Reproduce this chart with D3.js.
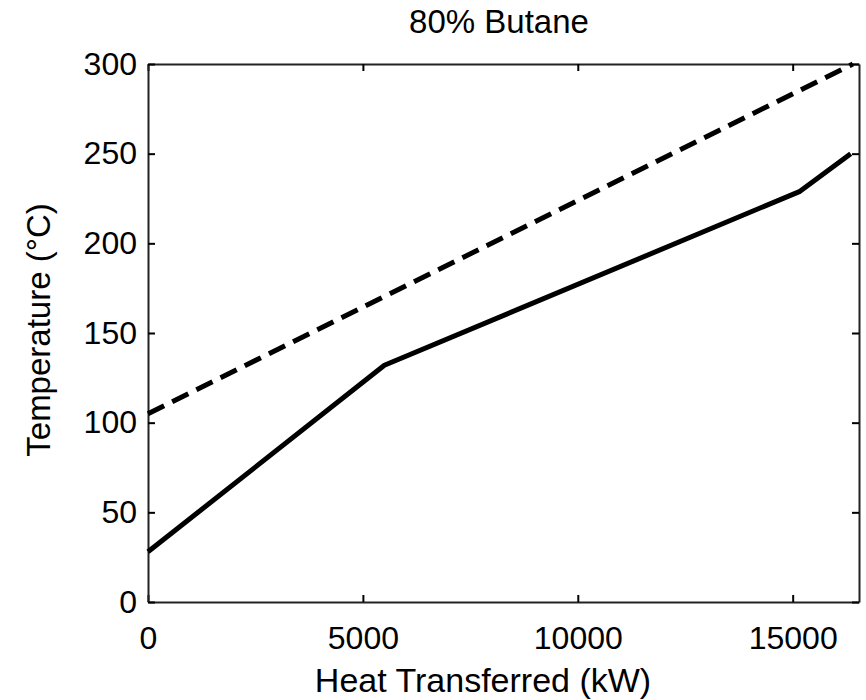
<!DOCTYPE html>
<html>
<head>
<meta charset="utf-8">
<script src="https://cdn.jsdelivr.net/npm/d3@7"></script>
<style>
  body { margin: 0; background: #fff; }
  svg text { font-family: "Liberation Sans", Arial, sans-serif; fill: #000; }
</style>
</head>
<body>
<svg id="chart" width="866" height="700"></svg>
<script>
// hot stream (dashed) and cold stream (solid), heat in kW, temperature in °C
const hotHeat = [0, 16400]
const hotTemp = [105, 300]
const coldHeat = [0, 5500, 15170, 16350]
const coldTemp = [28, 132, 229, 250]
const xTicks = [0, 5000, 10000, 15000]
const yTicks = [0, 50, 100, 150, 200, 250, 300]

const box = { left: 148, right: 859, top: 64, bottom: 602 }
const svg = d3.select('#chart')

/* Scales */
const x = d3.scaleLinear().domain([0, 16543]).range([box.left, box.right])
const y = d3.scaleLinear().domain([0, 300]).range([box.bottom, box.top])

/* Axes, ticks pointing inward like MATLAB */
const tick = 7
const fmt = d3.format('d')
svg.append('g')
  .attr('transform', `translate(0,${box.bottom})`)
  .call(d3.axisBottom(x).tickValues(xTicks).tickFormat(fmt).tickSizeInner(-tick).tickSizeOuter(0).tickPadding(24))
svg.append('g')
  .attr('transform', `translate(0,${box.top})`)
  .call(d3.axisTop(x).tickValues(xTicks).tickSizeInner(-tick).tickSizeOuter(0).tickFormat(''))
svg.append('g')
  .attr('transform', `translate(${box.left},0)`)
  .call(d3.axisLeft(y).tickValues(yTicks).tickFormat(fmt).tickSizeInner(-tick).tickSizeOuter(0).tickPadding(11))
svg.append('g')
  .attr('transform', `translate(${box.right},0)`)
  .call(d3.axisRight(y).tickValues(yTicks).tickSizeInner(-tick).tickSizeOuter(0).tickFormat(''))

svg.selectAll('.domain').attr('stroke', '#222').attr('stroke-width', 2)
svg.selectAll('.tick line').attr('stroke', '#000').attr('stroke-width', 2)
svg.selectAll('.tick text')
  .attr('font-size', 32)
  .attr('font-family', '"Liberation Sans", Arial, sans-serif')

/* Lines */
const line = d3.line().x(d => x(d[0])).y(d => y(d[1]))

svg.append('path')
  .datum(hotHeat.map((h, i) => [h, hotTemp[i]]))
  .attr('d', line)
  .attr('fill', 'none')
  .attr('stroke', '#000')
  .attr('stroke-width', 5)
  .attr('stroke-dasharray', '18,9')

svg.append('path')
  .datum(coldHeat.map((h, i) => [h, coldTemp[i]]))
  .attr('d', line)
  .attr('fill', 'none')
  .attr('stroke', '#000')
  .attr('stroke-width', 5)
  .attr('stroke-linejoin', 'round')

/* Labels */
svg.append('text')
  .attr('x', 499).attr('y', 33)
  .attr('text-anchor', 'middle')
  .attr('font-size', 33)
  .text('80% Butane')

svg.append('text')
  .attr('x', 483).attr('y', 692)
  .attr('text-anchor', 'middle')
  .attr('font-size', 34)
  .text('Heat Transferred (kW)')

svg.append('text')
  .attr('transform', 'translate(50,330) rotate(-90)')
  .attr('text-anchor', 'middle')
  .attr('font-size', 33)
  .text('Temperature (°C)')
</script>
</body>
</html>
